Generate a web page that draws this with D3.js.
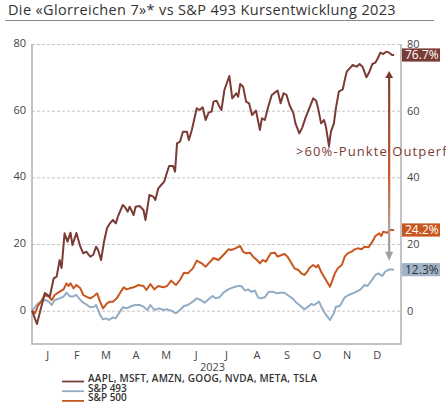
<!DOCTYPE html>
<html>
<head>
<meta charset="utf-8">
<script src="https://cdn.jsdelivr.net/npm/d3@7"></script>
<style>
  body { margin: 0; background: #fff; }
  svg { display: block; font-family: "Open Sans", sans-serif; }
</style>
</head>
<body>
<div id="chart"></div>
<script>
// Werte (Tage seit 1.1.2023, Performance in %)
const mag7 = [
  [0,0],[5,-4],[13,5.3],[18,4.2],[22,9.7],[25,10.2],[28,15.2],[30,12.8],[33,23.2],[36,20.7],
  [39,23.4],[41,19.7],[45,23.3],[49,19.2],[52,17.2],[55,17.7],[59,16.2],[62,16.7],[65,19.2],[67,18.2],
  [70,15.2],[73,20.7],[76,24.7],[79,26.2],[82,27.2],[85,26.2],[87,28.2],[92,31.7],[94,31.2],[97,29.7],
  [99,31.2],[103,28.7],[105,31.2],[109,31.4],[113,30.2],[115,27.2],[119,34.7],[123,34.2],[125,33.2],[128,36.7],
  [131,37.7],[134,38.7],[136,40.7],[139,43.4],[143,43.4],[145,41.7],[147,50.2],[150,50.7],[153,53.7],[157,53.7],
  [159,51.2],[162,54.2],[165,58.2],[167,60.7],[170,60.2],[173,61],[176,57.2],[179,59.4],[182,59.7],[184,62.7],
  [187,63],[190,61.2],[192,60.2],[195,66.2],[200,70.4],[203,63.7],[207,65.2],[209,64.2],[211,68],[214,67.2],
  [217,62.7],[220,62.2],[223,58.7],[227,60],[231,54.2],[233,57.7],[236,57.2],[239,60.7],[243,64.7],[246,65.4],
  [249,66],[252,62.2],[255,65.2],[258,64.7],[261,61.7],[265,59.2],[267,56.2],[271,53.2],[274,55],[277,57.7],
  [281,60.7],[285,63.7],[288,63],[290,60.7],[293,56.2],[296,57.2],[298,55],[301,49.4],[303,53.7],[306,56.2],
  [308,60.7],[311,65.7],[315,66.4],[317,69.2],[319,71.7],[322,72.7],[325,73.7],[329,73.2],[332,74],[335,73.2],
  [339,70],[342,71.7],[345,74],[348,74.4],[351,76],[353,77.4],[356,77],[359,77.7],[362,77.4],[365,76.7],[367,76.7]
];
const sp500 = [
  [0,0],[3,-0.8],[6,1.4],[10,3.2],[13,4.7],[17,4.2],[20,3.2],[23,4.7],[28,5.7],[32,6.4],
  [35,8.2],[37,7.4],[39,8.2],[42,6.7],[45,7.7],[49,6.7],[52,4.7],[55,4.2],[59,3.7],[63,4.4],
  [66,5.2],[69,2.7],[72,0.7],[76,2.2],[79,2.7],[82,2.7],[86,3.7],[90,5.7],[93,7],[96,6.4],
  [99,6.7],[103,7],[108,7.7],[113,7.4],[116,6.2],[120,8],[124,6.4],[128,7.4],[133,7],[137,7.4],
  [141,9],[146,7.7],[150,9.2],[154,11.4],[158,11.2],[163,12.7],[167,15],[172,14.2],[176,13.2],[180,14.5],
  [184,15.8],[189,15.2],[194,16.7],[199,18.4],[202,18.2],[206,18.7],[211,19.4],[214,17.7],[217,17.2],[221,17.4],
  [224,16.2],[228,15.2],[231,14.2],[234,15.2],[237,14.7],[242,17.2],[246,17.4],[249,16.2],[253,16.7],[256,17],
  [259,16.2],[263,14.2],[266,12.7],[270,12.2],[273,11.2],[276,10.7],[279,11.7],[281,12.7],[285,13.7],[288,13],
  [290,13.7],[293,11.7],[296,10.2],[299,8.7],[302,7.2],[304,8.7],[307,11.2],[310,12.7],[314,13.7],[317,16.2],
  [320,17.2],[324,17.7],[327,18.4],[330,18.7],[334,18.4],[337,19.2],[341,19],[345,20.7],[348,22.4],[352,23.2],
  [354,22.4],[356,23.7],[360,23.4],[363,24.2],[367,24.2]
];
const sp493 = [
  [0,0],[3,1],[6,2.2],[10,2.7],[13,3.2],[17,2.7],[20,1.7],[23,3.2],[28,3.7],[32,4.2],
  [35,5.4],[38,4.4],[41,4.2],[45,4.7],[49,3.2],[52,2.4],[56,1.7],[59,1],[63,1.2],[65,1.7],
  [69,-1.3],[72,-2.6],[75,-2.3],[78,-2.8],[82,-2],[85,-2.3],[88,-0.8],[92,1],[96,0.7],[101,1.4],
  [105,1.7],[109,1.7],[113,1.2],[117,0.2],[120,1.7],[124,0.2],[129,0.7],[133,0.2],[137,0.4],[141,0],
  [146,-0.8],[150,0.2],[154,1.4],[158,1.7],[163,2.7],[167,3.7],[171,3.2],[175,2.4],[179,3.4],[183,4.4],
  [186,3.7],[190,4],[194,5.4],[199,6.4],[204,7],[209,7.4],[212,7.4],[216,6],[219,6.4],[222,5.7],
  [226,6],[229,4],[232,3.7],[236,4],[240,5.7],[244,5.7],[248,5.2],[252,5.4],[256,5.4],[259,4.7],
  [264,3.7],[267,2.7],[271,1.7],[276,0.4],[280,1.2],[283,2],[286,1.7],[291,2.7],[294,0.7],[297,-0.8],
  [302,-2.8],[306,-0.8],[308,1.2],[312,1.4],[317,4],[321,4.7],[325,5.2],[329,5.7],[333,6.4],[337,7.7],
  [340,7.4],[345,9.4],[348,10.7],[351,11.2],[355,10.4],[358,11.7],[362,12.4],[367,12.3]
];
const endLabels = ["76.7%", "24.2%", "12.3%"];
const yTicks = [0, 20, 40, 60, 80];
const monthLabels = ["J","F","M","A","M","J","J","A","S","O","N","D"];
const legendLabels = ["AAPL, MSFT, AMZN, GOOG, NVDA, META, TSLA", "S&P 493", "S&P 500"];
const titleText = "Die «Glorreichen 7»* vs S&P 493 Kursentwicklung 2023";
const noteText = ">60%-Punkte Outperformance";

const colMag = "#7b3b35", colOrange = "#c8561f", colBlue = "#93acc5";

const W = 446, H = 410;
const mLeft = 32, mRight = 401, mTop = 44, mBottom = 344;
const start = new Date(2023, 0, 1);
const toDate = d => d3.timeDay.offset(start, d);

const svg = d3.select("#chart").append("svg").attr("width", W).attr("height", H);

// Titel
svg.append("text").attr("x", 8).attr("y", 15)
  .attr("font-size", 14.5).attr("fill", "#333").attr("font-weight", 500)
  .attr("letter-spacing", 0.35)
  .text(titleText);
svg.append("line").attr("x1", 5).attr("x2", 434).attr("y1", 20.5).attr("y2", 20.5)
  .attr("stroke", "#8a8a8a").attr("stroke-width", 1.2);

const x = d3.scaleTime().domain([start, new Date(2024, 0, 10)]).range([mLeft, mRight]);
const y = d3.scaleLinear().domain([-10, 80]).range([mBottom, mTop]);

// Gitternetz
svg.append("g").attr("transform", `translate(${mLeft},0)`)
  .call(d3.axisLeft(y).tickValues(yTicks).tickSize(-(mRight - mLeft)).tickFormat(""))
  .call(g => g.select(".domain").remove())
  .call(g => g.selectAll("line").attr("stroke", "#c4c4c4").attr("stroke-dasharray", "3,2"));

// Achsen
const axisCol = "#b0b0b0";
svg.append("path").attr("d", `M${mLeft},${mTop}V${mBottom}H${mRight}V${mTop}`)
  .attr("fill", "none").attr("stroke", axisCol).attr("stroke-width", 1.5);

svg.append("g").attr("transform", `translate(${mLeft - 4},-1)`)
  .call(d3.axisLeft(y).tickValues(yTicks).tickSize(0).tickPadding(2))
  .call(g => g.select(".domain").remove())
  .call(g => g.selectAll("text").attr("font-size", 11).attr("fill", "#444").attr("font-family", "Open Sans"));

svg.append("g").attr("transform", `translate(${mRight + 4},0)`)
  .call(d3.axisRight(y).tickValues(yTicks).tickSize(0).tickPadding(2))
  .call(g => g.select(".domain").remove())
  .call(g => g.selectAll("text").attr("font-size", 11).attr("fill", "#444").attr("font-family", "Open Sans"));

const mids = d3.timeMonth.range(start, new Date(2024, 0, 1))
  .map(m => new Date((+m + +d3.timeMonth.offset(m, 1)) / 2));
svg.append("g").attr("transform", `translate(0,${mBottom + 4})`)
  .call(d3.axisBottom(x).tickValues(mids).tickSize(0).tickFormat((d, i) => monthLabels[i]))
  .call(g => g.select(".domain").remove())
  .call(g => g.selectAll("text").attr("font-size", 11).attr("fill", "#444").attr("font-family", "Open Sans"));

svg.append("text").attr("x", (mLeft + mRight) / 2 - 4).attr("y", 371)
  .attr("text-anchor", "middle").attr("font-size", 11).attr("fill", "#444").text("2023");

// Linien
const line = d3.line().x(d => x(toDate(d[0]))).y(d => y(d[1])).curve(d3.curveLinear);
const series = [
  { data: sp493, color: colBlue },
  { data: sp500, color: colOrange },
  { data: mag7, color: colMag }
];
svg.append("g").selectAll("path").data(series).join("path")
  .attr("d", d => line(d.data))
  .attr("fill", "none").attr("stroke", d => d.color)
  .attr("stroke-width", 2).attr("stroke-linejoin", "round");

// Pfeil
const ax = x(new Date(2023, 11, 29));
const yTop = y(mag7[mag7.length - 1][1]) + 16;
const yBot = y(sp493[sp493.length - 1][1]) - 9;
const defs = svg.append("defs");
const grad = defs.append("linearGradient").attr("id", "arrowGrad")
  .attr("gradientUnits", "userSpaceOnUse").attr("x1", 0).attr("x2", 0).attr("y1", yTop).attr("y2", yBot);
grad.append("stop").attr("offset", "0%").attr("stop-color", colMag);
grad.append("stop").attr("offset", "55%").attr("stop-color", colOrange);
grad.append("stop").attr("offset", "80%").attr("stop-color", "#b39a8e");
grad.append("stop").attr("offset", "100%").attr("stop-color", "#a39d9d");
svg.append("line").attr("x1", ax).attr("x2", ax).attr("y1", yTop + 5).attr("y2", yBot - 5)
  .attr("stroke", "url(#arrowGrad)").attr("stroke-width", 2.2);
svg.append("path").attr("d", `M${ax},${yTop}l-4,7h8z`).attr("fill", colMag);
svg.append("path").attr("d", `M${ax},${yBot}l-4,-9h8z`).attr("fill", "#a39d9d");

svg.append("text").attr("x", 296).attr("y", 156)
  .attr("font-size", 13).attr("letter-spacing", 1.1).attr("fill", colMag)
  .text(noteText);

// Endwerte
const ends = [
  { v: mag7[mag7.length - 1][1], fill: colMag, text: "#fff" },
  { v: sp500[sp500.length - 1][1], fill: colOrange, text: "#fff" },
  { v: sp493[sp493.length - 1][1], fill: "#9fb4c9", text: "#333" }
];
const eg = svg.append("g").selectAll("g").data(ends).join("g")
  .attr("transform", d => `translate(${mRight + 1},${y(d.v)})`);
eg.append("rect").attr("x", 0).attr("y", -6.6).attr("width", 38).attr("height", 13.2).attr("fill", d => d.fill);
eg.append("text").attr("x", 3).attr("y", 4.4).attr("font-size", 12).attr("fill", d => d.text)
  .text((d, i) => endLabels[i]);

// Legende
const lg = svg.append("g").selectAll("g").data([colMag, colBlue, colOrange]).join("g")
  .attr("transform", (d, i) => `translate(62,${381.5 + i * 9.7})`);
lg.append("line").attr("x1", 0).attr("x2", 22).attr("stroke", d => d).attr("stroke-width", 1.8);
lg.append("text").attr("x", 26).attr("y", 0.5).attr("font-size", 10).attr("font-weight", 600)
  .attr("fill", "#333").attr("textLength", (d, i) => i === 0 ? 229 : null)
  .text((d, i) => legendLabels[i]);
</script>
</body>
</html>
